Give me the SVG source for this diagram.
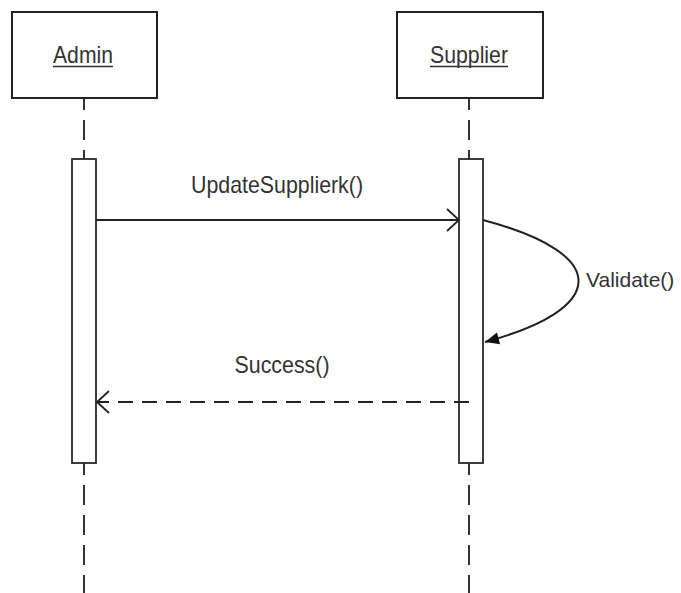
<svg xmlns="http://www.w3.org/2000/svg" width="681" height="593" viewBox="0 0 681 593">
  <style>
    .box { fill: #ffffff; stroke: #222222; stroke-width: 2; }
    .act { fill: #ffffff; stroke: #2a2a2a; stroke-width: 1.8; }
    .life { fill: none; stroke: #333333; stroke-width: 2; stroke-dasharray: 20 10; stroke-dashoffset: 8; }
    .lbl { font-family: "Liberation Sans", Arial, sans-serif; font-size: 24px; fill: #333333; }
    .ul { stroke: #333333; stroke-width: 1.5; }
    .msg { fill: none; stroke: #222222; stroke-width: 2; }
    .ret { fill: none; stroke: #222222; stroke-width: 2; stroke-dasharray: 15 9; }
  </style>
  <defs>
    <marker id="open" viewBox="-15 -14 17 28" refX="0" refY="0" markerWidth="17" markerHeight="28" markerUnits="userSpaceOnUse" orient="auto">
      <path d="M-12,-11 L0,0 L-12,11" fill="none" stroke="#222222" stroke-width="1.8"/>
    </marker>
    <marker id="filled" viewBox="-15 -8 17 16" refX="0" refY="0" markerWidth="17" markerHeight="16" markerUnits="userSpaceOnUse" orient="auto">
      <path d="M-14,-6 L0,0 L-14,6 Z" fill="#111111"/>
    </marker>
  </defs>
  <rect width="681" height="593" fill="#ffffff"/>

  <g id="connectors">
    <line class="life" x1="84" y1="98" x2="84" y2="159"/>
    <line class="life" x1="84" y1="463" x2="84" y2="593"/>
    <line class="life" x1="469" y1="98" x2="469" y2="159"/>
    <line class="life" x1="469" y1="463" x2="469" y2="593"/>
  </g>

  <g id="admin">
    <rect class="box" x="12" y="12" width="145" height="86"/>
    <text class="lbl" x="83" y="63" text-anchor="middle" textLength="60" lengthAdjust="spacingAndGlyphs">Admin</text>
    <line class="ul" x1="53" y1="66.5" x2="113" y2="66.5"/>
  </g>

  <g id="supplier">
    <rect class="box" x="397" y="12" width="146" height="86"/>
    <text class="lbl" x="469" y="63" text-anchor="middle" textLength="78" lengthAdjust="spacingAndGlyphs">Supplier</text>
    <line class="ul" x1="430" y1="66.5" x2="508" y2="66.5"/>
  </g>

  <g id="admin-activation">
    <rect class="act" x="72" y="159" width="24" height="304"/>
  </g>

  <g id="supplier-activation">
    <rect class="act" x="459" y="159" width="24" height="304"/>
  </g>

  <g id="messages">
    <line class="msg" x1="96" y1="220" x2="459" y2="220" marker-end="url(#open)"/>
    <text class="lbl" x="277" y="193" text-anchor="middle" textLength="172" lengthAdjust="spacingAndGlyphs">UpdateSupplierk()</text>

    <path class="msg" d="M483,220 C615,255 605,310 485,342" marker-end="url(#filled)"/>
    <text class="lbl" x="586" y="287" style="font-size:21px">Validate()</text>

    <line class="ret" x1="469" y1="402" x2="97" y2="402" marker-end="url(#open)"/>
    <text class="lbl" x="282" y="373" text-anchor="middle" textLength="95" lengthAdjust="spacingAndGlyphs">Success()</text>
  </g>
</svg>
